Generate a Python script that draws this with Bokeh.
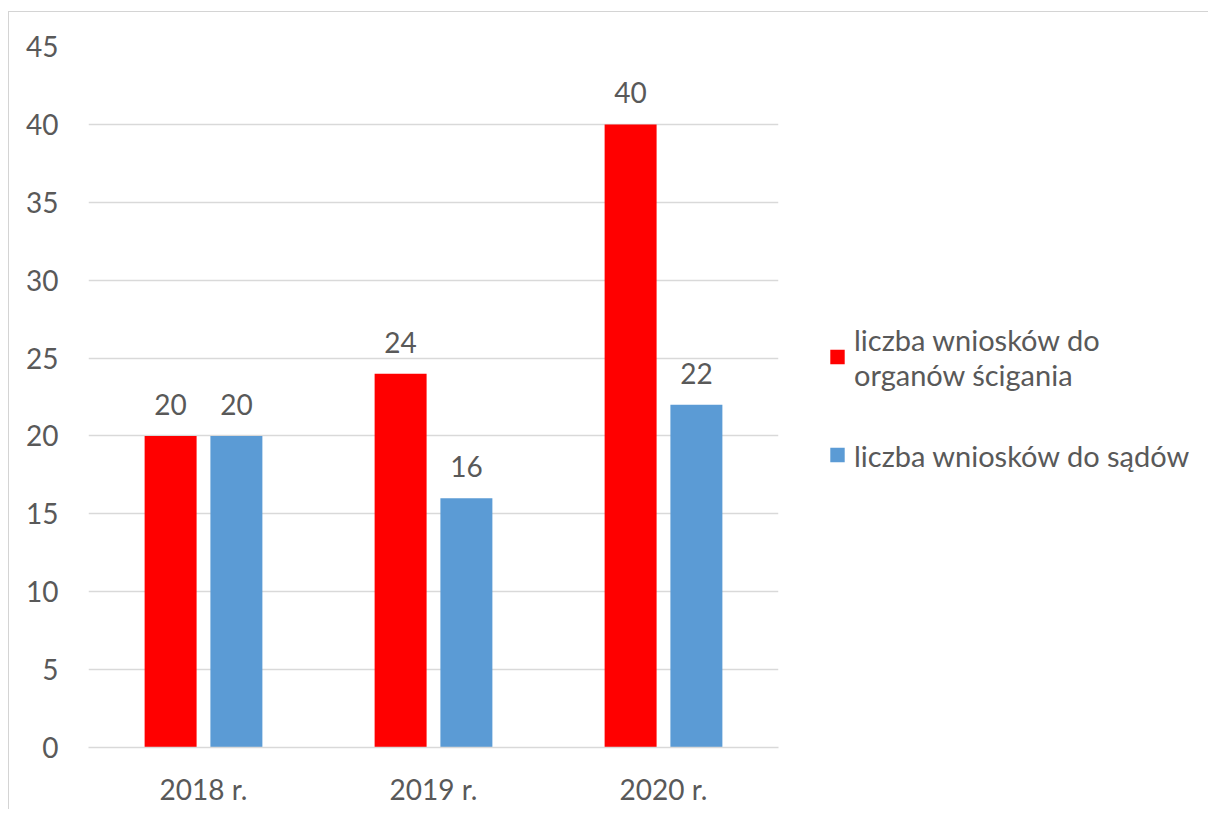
from bokeh.plotting import figure
from bokeh.models import ColumnDataSource, FactorRange, Range1d, LabelSet, Legend, LegendItem, SingleIntervalTicker
from bokeh.transform import dodge
from bokeh.core.properties import value
from bokeh.embed import file_html
from bokeh.resources import INLINE

years = ["2018 r.", "2019 r.", "2020 r."]
organy = [20, 24, 40]
sady = [20, 16, 22]
series_names = ["liczba wniosków do\norganów ścigania", "liczba wniosków do sądów"]

FONT = "Lato"
TXT = "#595959"
GRID = "#d9d9d9"

src = ColumnDataSource(dict(
    x=years, organy=organy, sady=sady,
    organy_t=[str(v) for v in organy], sady_t=[str(v) for v in sady],
))

p = figure(frame_width=690, frame_height=701, x_range=FactorRange(*years, range_padding=0),
           y_range=Range1d(0, 45), output_backend="svg", toolbar_location=None,
           min_border_left=79, min_border_right=0, min_border_top=34, min_border_bottom=62)
p.styles = {"margin-left": "8px", "margin-top": "11px",
            "border-top": "1px solid #d4d4d4", "border-left": "1px solid #d4d4d4"}
p.outline_line_color = None
p.background_fill_color = "white"
p.border_fill_color = "white"

r1 = p.vbar(x=dodge("x", -0.143, range=p.x_range), top="organy", width=0.226, source=src,
            fill_color="#ff0000", line_color=None)
r2 = p.vbar(x=dodge("x", 0.143, range=p.x_range), top="sady", width=0.226, source=src,
            fill_color="#5b9bd5", line_color=None)

for col, off in (("organy", -0.143), ("sady", 0.143)):
    p.add_layout(LabelSet(x=dodge("x", off, range=p.x_range), y=col, text=col + "_t", source=src,
                          text_align="center", text_baseline="alphabetic", y_offset=21,
                          text_font=value(FONT), text_font_size=value("28px"), text_color=TXT))

p.yaxis.ticker = SingleIntervalTicker(interval=5)
p.ygrid.ticker = SingleIntervalTicker(interval=5)
p.xgrid.grid_line_color = None
p.ygrid.grid_line_color = GRID
p.ygrid.grid_line_width = 1.5

for ax in (p.xaxis, p.yaxis):
    ax.major_tick_line_color = None
    ax.minor_tick_line_color = None
    ax.major_label_text_font = FONT
    ax.major_label_text_font_size = "28px"
    ax.major_label_text_color = TXT
p.yaxis.axis_line_color = None
p.yaxis.major_label_standoff = 24
p.xaxis.axis_line_color = GRID
p.xaxis.axis_line_width = 1.5
p.xaxis.major_label_standoff = 18

legend = Legend(items=[LegendItem(label=series_names[0], renderers=[r1]),
                       LegendItem(label=series_names[1], renderers=[r2])],
                location="left", border_line_color=None, background_fill_alpha=0,
                label_text_font=FONT, label_text_font_size="29px", label_text_color=TXT,
                label_text_line_height=1.05,
                glyph_width=18, glyph_height=18, label_standoff=8, spacing=46,
                padding=5, margin=50)
p.add_layout(legend, "right")

open("out.html", "w").write(file_html(p, INLINE))
